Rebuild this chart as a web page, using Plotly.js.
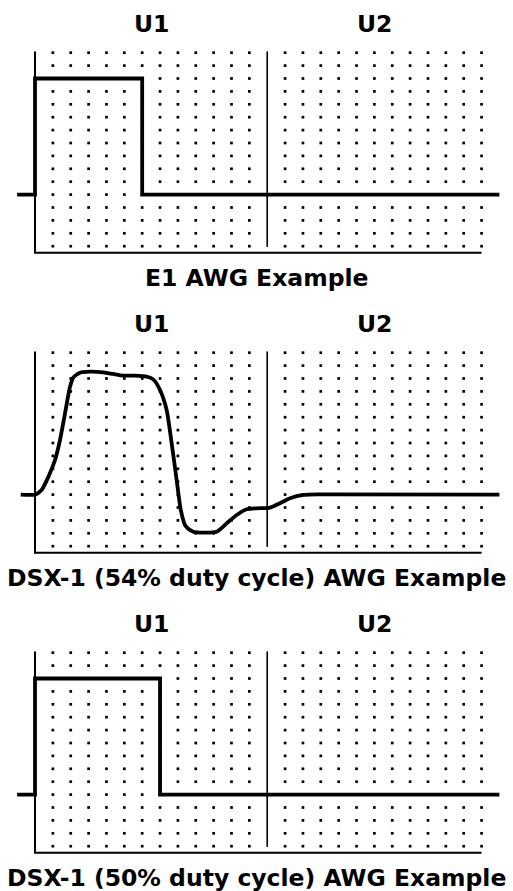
<!DOCTYPE html>
<html>
<head>
<meta charset="utf-8">
<script src="https://cdn.plot.ly/plotly-3.0.1.min.js"></script>
<style>html,body{margin:0;padding:0;background:#fff;}#chart{width:513px;height:891px;}</style>
</head>
<body>
<div id="chart"></div>
<script>
// ---- data ----
const panelTitles = ["E1 AWG Example", "DSX-1 (54% duty cycle) AWG Example", "DSX-1 (50% duty cycle) AWG Example"];
const unitLabels = ["U1", "U2"];
const unitCenters = [6.5, 19];

const dotCols = [1,2,3,4,5,6,7,8,9,10,11,12,14,15,16,17,18,19,20,21,22,23,24,25];
const dotRows = [11,10,9,8,7,6,5,4,3,2,1,0,-1,-2,-3,-4];

const e1X = [-1, 0, 0, 6, 6, 26];
const e1Y = [0, 0, 9, 9, 0, 0];

const dsx54X = [-0.8, 0, 0.37, 0.75, 1.12, 1.40, 1.68, 1.96, 2.15, 2.52, 3.08, 3.82, 4.38, 4.76, 5.51, 6.25, 6.62, 7.00, 7.37, 7.65, 7.93, 8.16, 8.40, 8.58, 8.86, 9.42, 10.17, 10.73, 11.29, 11.85, 12.41, 13.16, 13.72, 14.28, 15.02, 15.96, 26];
const dsx54Y = [0, 0, 0.36, 1.39, 2.68, 4.23, 6.30, 8.36, 9.09, 9.45, 9.53, 9.48, 9.35, 9.25, 9.22, 9.14, 8.93, 8.11, 6.56, 3.98, 1.13, -1.19, -2.36, -2.65, -2.88, -2.95, -2.88, -2.23, -1.58, -1.14, -1.06, -1.01, -0.67, -0.29, -0.03, 0.02, 0];

const dsx50X = [-1, 0, 0, 7, 7, 26];
const dsx50Y = [0, 0, 9, 9, 0, 0];

// ---- build ----
const H = 891;
const panelTop = [0, 300, 600];
const panelH = 290;
const xRange = [-1.96, 26.76];
const yRange = [-7.395, 15.085];
const FONT = "DejaVu Sans, Arial, sans-serif";

const signals = [[e1X, e1Y], [dsx54X, dsx54Y], [dsx50X, dsx50Y]];

const dotX = [], dotY = [];
dotRows.forEach(r => dotCols.forEach(c => { dotX.push(c); dotY.push(r); }));

const traces = [];
const layout = {
  width: 513, height: 891,
  margin: {l: 0, r: 0, t: 0, b: 0},
  paper_bgcolor: "#fff", plot_bgcolor: "#fff",
  showlegend: false,
  annotations: [],
  font: {family: FONT, color: "#000"}
};

for (let i = 0; i < 3; i++) {
  const xa = i === 0 ? "x" : "x" + (i + 1);
  const ya = i === 0 ? "y" : "y" + (i + 1);
  const xk = i === 0 ? "xaxis" : "xaxis" + (i + 1);
  const yk = i === 0 ? "yaxis" : "yaxis" + (i + 1);
  layout[xk] = {domain: [0, 1], range: xRange, visible: false, fixedrange: true, anchor: ya};
  layout[yk] = {domain: [1 - (panelTop[i] + panelH) / H, 1 - panelTop[i] / H], range: yRange, visible: false, fixedrange: true, anchor: xa};

  // dot grid
  traces.push({x: dotX, y: dotY, xaxis: xa, yaxis: ya, type: "scatter", mode: "markers",
    marker: {symbol: "square", size: 2.7, color: "#000", line: {width: 0}}, hoverinfo: "skip"});
  // frame (left + bottom axis)
  traces.push({x: [0, 0, 25], y: [11.1, -4.5, -4.5], xaxis: xa, yaxis: ya, type: "scatter", mode: "lines",
    line: {color: "#000", width: 2}, hoverinfo: "skip"});
  // U1/U2 divider
  traces.push({x: [13, 13], y: [11.1, -4.05], xaxis: xa, yaxis: ya, type: "scatter", mode: "lines",
    line: {color: "#000", width: 1.6}, hoverinfo: "skip"});
  // signal
  traces.push({x: signals[i][0], y: signals[i][1], xaxis: xa, yaxis: ya, type: "scatter", mode: "lines",
    line: {color: "#000", width: 3.8, shape: i === 1 ? "spline" : "linear", smoothing: 0.6}, hoverinfo: "skip"});

  unitLabels.forEach((u, k) => {
    layout.annotations.push({text: "<b>" + u + "</b>", x: unitCenters[k], y: 13.25, xref: xa, yref: ya,
      showarrow: false, xanchor: "center", yanchor: "middle", font: {family: FONT, size: 23.5, color: "#000"}});
  });
  layout.annotations.push({text: "<b>" + panelTitles[i] + "</b>", x: 0.5, y: -6.5, xref: "paper", yref: ya,
    showarrow: false, xanchor: "center", yanchor: "middle", font: {family: FONT, size: 23.5, color: "#000"}});
}

Plotly.newPlot("chart", traces, layout, {staticPlot: true, displayModeBar: false});
</script>
</body>
</html>
